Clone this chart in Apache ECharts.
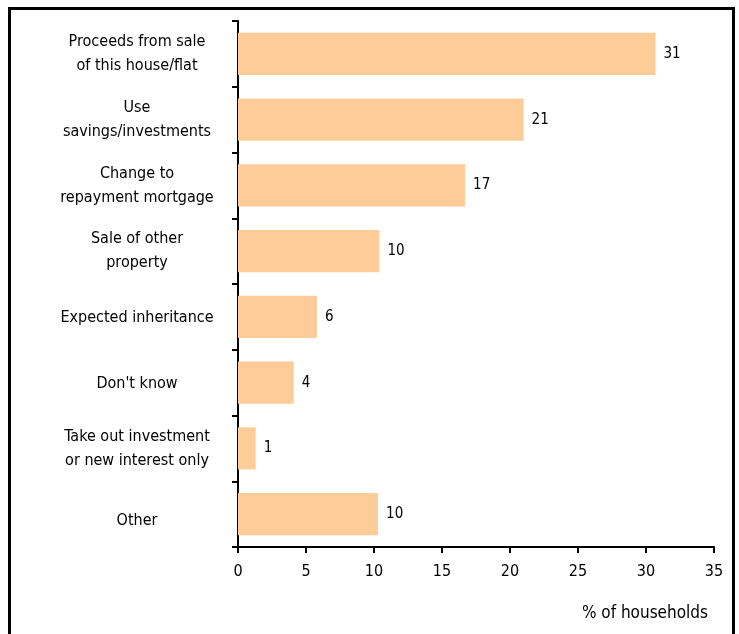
<!DOCTYPE html>
<html>
<head>
<meta charset="utf-8">
<script src="https://cdn.jsdelivr.net/npm/echarts@6/dist/echarts.min.js"></script>
<style>html,body{margin:0;padding:0;background:#fff}#c{width:739px;height:634px}</style>
</head>
<body>
<div id="c"></div>
<script>
var categories = [
  "Proceeds from sale\nof this house/flat",
  "Use\nsavings/investments",
  "Change to\nrepayment mortgage",
  "Sale of other\nproperty",
  "Expected inheritance",
  "Don't know",
  "Take out investment\nor new interest only",
  "Other"
];
var values = [30.7, 21.0, 16.7, 10.4, 5.8, 4.1, 1.3, 10.3];
var valueLabels = [31, 21, 17, 10, 6, 4, 1, 10];
var xTicks = [0, 5, 10, 15, 20, 25, 30, 35];

var FONT = '"DejaVu Sans Condensed", "DejaVu Sans", sans-serif';
var chart = echarts.init(document.getElementById('c'), null, {renderer: 'canvas'});
chart.setOption({
  animation: false,
  backgroundColor: '#fff',
  textStyle: {fontFamily: FONT},
  graphic: [{
    type: 'polyline',
    shape: {points: [[9.5, 640], [9.5, 8.5], [733.5, 8.5], [733.5, 640]]},
    style: {stroke: '#000', lineWidth: 3, fill: null},
    z: 10
  }],
  grid: {left: 238, right: 25, top: 21, bottom: 87, containLabel: false},
  xAxis: {
    type: 'value', min: 0, max: 35, interval: 5,
    name: '% of households', nameLocation: 'end',
    nameGap: 0,
    nameTextStyle: {fontFamily: FONT, fontSize: 17, color: '#000', align: 'right', verticalAlign: 'top', padding: [58, 6, 0, 0]},
    axisLine: {show: true, onZero: false, lineStyle: {color: '#000', width: 2}},
    axisTick: {show: true, length: 6, lineStyle: {color: '#000', width: 2}},
    axisLabel: {fontFamily: FONT, fontSize: 16, color: '#000', margin: 17,
      formatter: function (v) { return xTicks.indexOf(v) >= 0 ? String(v) : ''; }},
    splitLine: {show: false}
  },
  yAxis: {
    type: 'category', data: categories, inverse: true,
    axisLine: {show: true, lineStyle: {color: '#000', width: 2}},
    axisTick: {show: true, length: 6, lineStyle: {color: '#000', width: 2}},
    axisLabel: {fontFamily: FONT, fontSize: 16, color: '#000', align: 'center', margin: 101, lineHeight: 24,
      formatter: function (v, i) {
        if (v.indexOf('\n') >= 0) return v;
        return (i === categories.length - 1 ? '{low|' : '{s|') + v + '}';
      },
      rich: {
        s: {fontFamily: FONT, fontSize: 16, color: '#000', padding: [2, 0, 0, 0]},
        low: {fontFamily: FONT, fontSize: 16, color: '#000', padding: [14, 0, 0, 0]}
      }
    }
  },
  series: [{
    type: 'bar', data: values, barCategoryGap: '36%',
    itemStyle: {color: '#FDCC99'},
    label: {show: true, position: 'right', distance: 8, fontFamily: FONT, fontSize: 15, color: '#000',
      formatter: function (p) { return String(valueLabels[p.dataIndex]); }}
  }]
});
</script>
</body>
</html>
